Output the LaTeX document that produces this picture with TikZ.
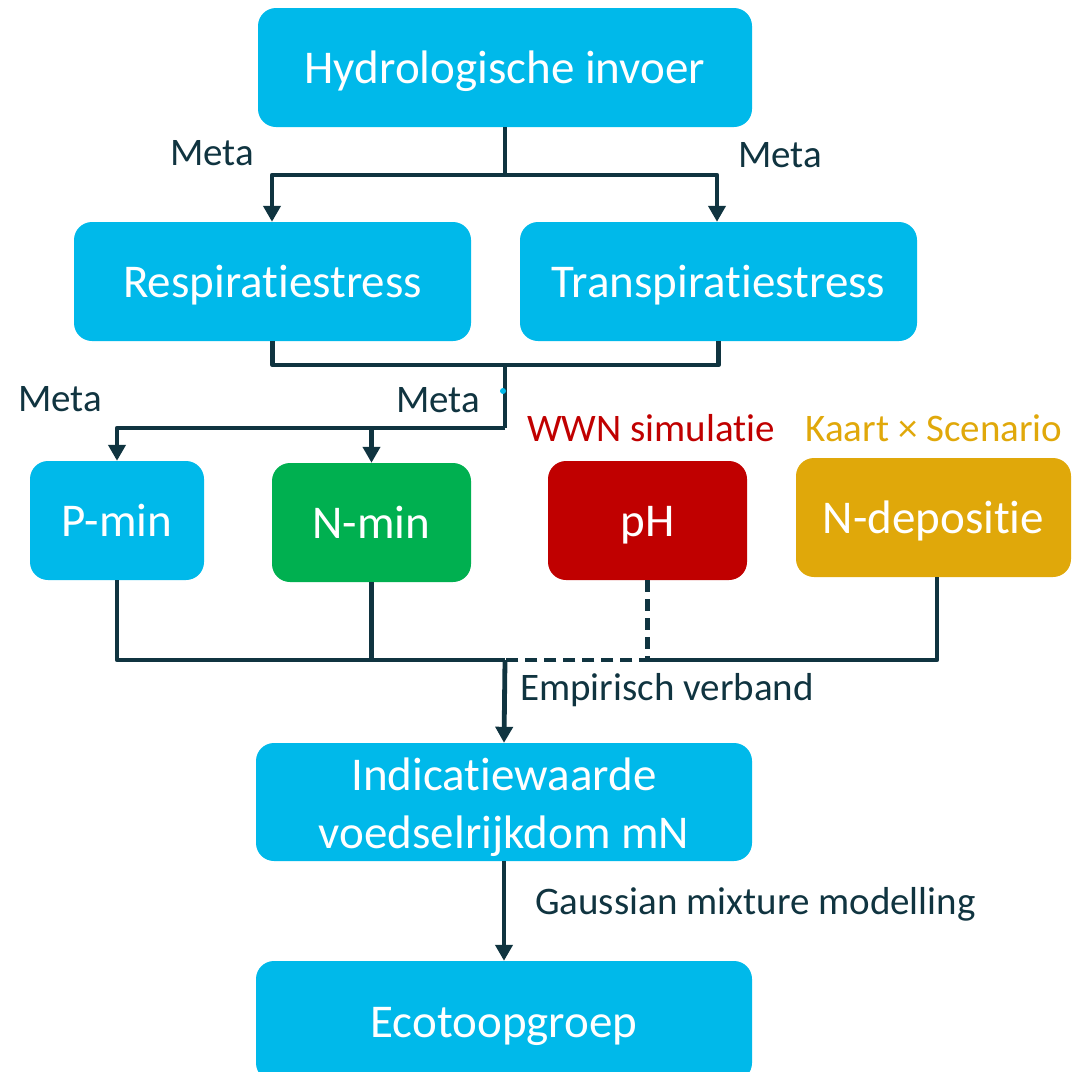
\documentclass[tikz,border=0pt]{standalone}
\usepackage{fontspec}
\setmainfont{Carlito}[Ligatures=NoCommon, RawFeature={-liga;-clig;-calt;-dlig}]
\usetikzlibrary{arrows.meta}
\definecolor{boxcyan}{RGB}{0,185,234}
\definecolor{boxgreen}{RGB}{0,176,80}
\definecolor{boxred}{RGB}{192,0,0}
\definecolor{boxgold}{RGB}{224,168,10}
\definecolor{linedark}{RGB}{16,52,64}
\tikzset{
  box/.style={rectangle, rounded corners=18pt, fill=boxcyan, text=white, inner sep=0pt,
    minimum height=119pt, font=\fontsize{47}{58}\selectfont, align=center,
    text height=36pt, text depth=4pt},
  link/.style={draw=linedark, line width=4.8pt, line join=round},
  arr/.style={link, -{Triangle[length=16pt,width=17pt]}},
  lbl/.style={text=linedark, font=\fontsize{39}{46}\selectfont, inner sep=0pt},
}
\begin{document}
\begin{tikzpicture}[x=1pt,y=-1pt]
\useasboundingbox (0,0) rectangle (1073,1071);

% boxes
\node[box, minimum width=494pt] (hydro) at (505,67.5) {Hydrologische invoer};
\node[box, minimum width=397pt] (resp) at (272.5,281.5) {Respiratiestress};
\node[box, minimum width=397pt] (trans) at (718.5,281.5) {Transpiratiestress};
\node[box, minimum width=174pt] (pmin) at (117,520.5) {P-min};
\node[box, minimum width=199pt, fill=boxgreen] (nmin) at (371.5,522.5) {N-min};
\node[box, minimum width=199pt, fill=boxred] (ph) at (647.5,520.5) {pH};
\node[box, minimum width=275pt, fill=boxgold] (ndep) at (933.5,517.5) {N-depositie};
\node[box, minimum width=496pt, minimum height=118pt, text height=, text depth=]
  (indic) at (504,802) {\rule{0pt}{44pt}Indicatiewaarde\\voedselrijkdom mN};
\node[box, minimum width=496pt, minimum height=120pt] (eco) at (504,1021) {Ecotoopgroep};

% junction points
\coordinate (j1) at (505,175);
\coordinate (j2) at (505,365);
\coordinate (j3) at (505,428);
\coordinate (j4) at (505,660);

% hydrology to stress boxes
\draw[link] (hydro.south) -- (j1);
\draw[arr] (j1) -| ([xshift=-0.5pt]resp.north);
\draw[arr] (j1) -| ([xshift=-1.5pt]trans.north);

% stress boxes to mineralisation boxes
\draw[link] (resp.south) |- (trans.south |- j2) -- (trans.south);
\draw[link] (j2) -- (j3);
\draw[arr] (j3) -| (pmin.north);
\draw[arr] (nmin.north |- j3) -- (nmin.north);
\fill[boxcyan] (503,391) circle (3pt);

% inputs to indication value
\draw[link] (pmin.south) |- (j4);
\draw[link] (nmin.south) -- (nmin.south |- j4);
\draw[link] ([xshift=3.5pt]ndep.south) |- (ph.south |- j4);
\draw[link, dash pattern=on 12pt off 7pt] (ph.south) -- (ph.south |- j4) -- (j4);
\draw[arr] (j4) -- (indic.north);
\draw[arr] (indic.south) -- (eco.north);

% labels
\node[lbl] (m1) at (212,153) {Meta};
\node[lbl] (m2) at (780,155) {Meta};
\node[lbl] (m3) at (60,399) {Meta};
\node[lbl] (m4) at (438,400) {Meta};
\node[lbl, text=boxred] (wwn) at (651,428) {WWN simulatie};
\node[lbl, text=boxgold] (kaart) at (934,428) {Kaart × Scenario};
\node[lbl, anchor=west] (emp) at (520,690) {Empirisch verband};
\node[lbl, anchor=west] (gmm) at (535,904) {Gaussian mixture modelling};
\end{tikzpicture}
\end{document}
